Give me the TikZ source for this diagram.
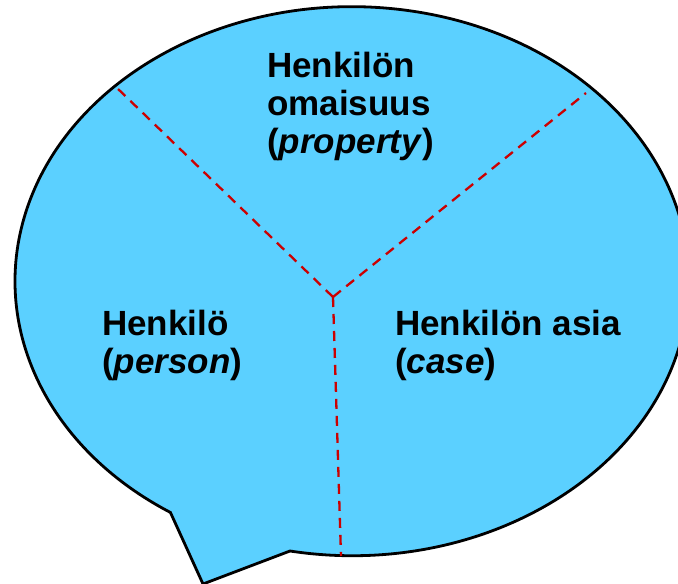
\documentclass[tikz,border=0pt]{standalone}
\usepackage{fontspec}
\setmainfont{Liberation Sans}
\definecolor{bubble}{RGB}{91,208,255}
\definecolor{divider}{RGB}{204,0,0}
\begin{document}
\begin{tikzpicture}[x=1pt,y=1pt,
  bubbleline/.style={draw=black,line width=2.8pt,fill=bubble,line join=miter},
  divline/.style={draw=divider,line width=2.3pt,dash pattern=on 10pt off 7pt},
  lbl/.style={anchor=base west,align=left,inner sep=0pt,font=\fontsize{35}{38}\selectfont\bfseries}]
\useasboundingbox (0,0) rectangle (678,-584);
\clip (0,0) rectangle (678,-584);
% bubble with tail
\path[bubbleline] (290,-551) arc[start angle=259.4,end angle=597.4,x radius=337pt,y radius=274.5pt]
  -- (203,-584) -- cycle;
% divider lines
\coordinate (c) at (333,-297);
\coordinate (ul) at (116,-87);
\coordinate (ur) at (586,-93);
\coordinate (bt) at (341,-556);
\draw[divline] (c) -- (ul);
\draw[divline] (c) -- (ur);
\draw[divline] (c) -- (bt);
% labels
\node[lbl] (prop) at (267,-153) {Henkilön\\omaisuus\\(\textit{property})};
\node[lbl] (pers) at (102,-373) {Henkilö\\(\textit{person})};
\node[lbl] (case) at (395,-373) {Henkilön asia\\(\textit{case})};
\end{tikzpicture}
\end{document}
